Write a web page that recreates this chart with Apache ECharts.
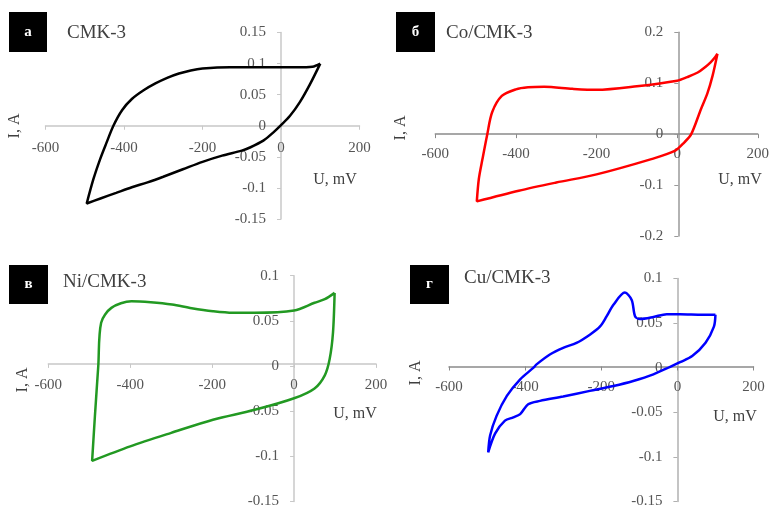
<!DOCTYPE html>
<html>
<head>
<meta charset="utf-8">
<script src="https://cdn.jsdelivr.net/npm/echarts@6/dist/echarts.min.js"></script>
<style>html,body{margin:0;padding:0;background:#fff}#c{width:772px;height:509px}</style>
</head>
<body>
<div id="c"></div>
<script>
// Panel а: CMK-3
var aU = [100, 80, 40, 0, -80, -130, -200, -230, -260, -290, -320, -350, -380, -405, -427, -445, -461, -478, -495,
          -460, -420, -380, -340, -300, -250, -200, -150, -100, -79, -45, -20, 0, 23, 48, 74, 100];
var aI = [0.100, 0.095, 0.094, 0.094, 0.094, 0.094, 0.092, 0.089, 0.084, 0.077, 0.068, 0.057, 0.043, 0.025, 0.000, -0.028, -0.054, -0.086, -0.125,
          -0.117, -0.108, -0.099, -0.091, -0.082, -0.070, -0.058, -0.048, -0.040, -0.035, -0.024, -0.011, 0.001, 0.016, 0.038, 0.067, 0.100];
// Panel б: Co/CMK-3
var bU = [100, 95, 83, 70, 51, 25, 0, -100, -200, -260, -330, -370, -400, -435, -459, -471, -483, -492, -497,
          -393, -300, -200, -64, -6, 18, 35, 59, 75, 88, 100];
var bI = [0.158, 0.152, 0.141, 0.132, 0.121, 0.112, 0.105, 0.094, 0.087, 0.089, 0.093, 0.092, 0.088, 0.075, 0.043, 0.000, -0.049, -0.088, -0.132,
          -0.111, -0.095, -0.079, -0.049, -0.033, -0.016, 0.000, 0.049, 0.080, 0.115, 0.158];
// Panel в: Ni/CMK-3
var cU = [99, 75, 50, 0, -96, -150, -198, -250, -298, -350, -397, -446, -471, -478, -486, -493,
          -400, -300, -198, -96, 0, 50, 75, 87, 95, 99];
var cI = [0.081, 0.074, 0.070, 0.0615, 0.059, 0.059, 0.0607, 0.064, 0.068, 0.0705, 0.0716, 0.0644, 0.048, 0.000, -0.054, -0.105,
          -0.089, -0.074, -0.0594, -0.0485, -0.0357, -0.0248, -0.0103, 0.008, 0.037, 0.081];
// Panel г: Cu/CMK-3
var dU = [100, 66, 7, -28, -63, -98, -111, -120, -138, -168, -186, -203, -230, -265, -300, -335, -370, -378, -413, -448, -475, -492, -497,
          -479, -453, -431, -413, -392, -361, -300, -230, -168, -116, -63, -19, 7, 39, 74, 96, 100];
var dI = [0.0595, 0.0594, 0.060, 0.060, 0.0568, 0.0546, 0.0575, 0.076, 0.0842, 0.0705, 0.0575, 0.0463, 0.037, 0.0278, 0.0223, 0.0148, 0.0037, 0.000, -0.013, -0.0316, -0.054, -0.076, -0.095,
          -0.074, -0.0594, -0.0557, -0.052, -0.0409, -0.0372, -0.0323, -0.026, -0.0205, -0.0149, -0.0075, 0.001, 0.0062, 0.013, 0.028, 0.046, 0.0595];

var xTicks = [-600, -400, -200, 0, 200];

function zip(u, i) { return u.map(function (v, k) { return [v, i[k]]; }); }

var FONT = 'Liberation Serif';
var panels = [
  {grid: {left: 45.5, top: 32.5, width: 314, height: 186.5}, ymin: -0.15, ymax: 0.15, yint: 0.05, data: zip(aU, aI), color: '#000000', axX: '#c8c8c8', axY: '#c8c8c8', xm: 15},
  {grid: {left: 435.3, top: 32.3, width: 324, height: 203.7}, ymin: -0.2, ymax: 0.2, yint: 0.1, data: zip(bU, bI), color: '#ff0000', axX: '#8a8a8a', axY: '#9a9a9a', xm: 12},
  {grid: {left: 48.3, top: 275.7, width: 327.7, height: 229.3}, ymin: -0.15, ymax: 0.1, yint: 0.05, data: zip(cU, cI), color: '#229922', axX: '#c8c8c8', axY: '#c8c8c8', xm: 14},
  {grid: {left: 449, top: 278.5, width: 304.5, height: 225}, ymin: -0.15, ymax: 0.1, yint: 0.05, data: zip(dU, dI), color: '#0000ff', axX: '#8a8a8a', axY: '#b0b0b0', xm: 13}
];

var xMin = xTicks[0], xMax = xTicks[xTicks.length - 1];
var grids = [], xAxes = [], yAxes = [], series = [];
panels.forEach(function (p, k) {
  grids.push(Object.assign({containLabel: false}, p.grid));
  // place axes so they cross at zero (offset derived from the axis ranges)
  var xOff = -p.grid.height * (0 - p.ymin) / (p.ymax - p.ymin);
  var yOff = -p.grid.width * (0 - xMin) / (xMax - xMin);
  xAxes.push({
    type: 'value', gridIndex: k, min: xMin, max: xMax, interval: 200,
    position: 'bottom', offset: xOff,
    axisLine: {onZero: false, lineStyle: {color: p.axX, width: 1.5}},
    axisTick: {show: true, inside: false, length: 4, lineStyle: {color: p.axX}},
    axisLabel: {color: '#555', fontFamily: FONT, fontSize: 15, margin: p.xm, showMinLabel: true, showMaxLabel: true},
    splitLine: {show: false}
  });
  yAxes.push({
    type: 'value', gridIndex: k, min: p.ymin, max: p.ymax, interval: p.yint,
    position: 'left', offset: yOff,
    axisLine: {show: true, onZero: false, lineStyle: {color: p.axY, width: 1.5}},
    axisTick: {show: true, inside: false, length: 4, lineStyle: {color: p.axY}},
    axisLabel: {color: '#555', fontFamily: FONT, fontSize: 15, margin: 15, showMinLabel: true, showMaxLabel: true,
      formatter: function (v) { return String(Math.round(v * 100) / 100); }},
    splitLine: {show: false}
  });
  series.push({
    type: 'line', xAxisIndex: k, yAxisIndex: k, data: p.data, showSymbol: false, smooth: 0.3,
    lineStyle: {color: p.color, width: 2.5}, animation: false, z: 5
  });
});

function badge(x, y, w, h, t) {
  return [
    {type: 'rect', shape: {x: x, y: y, width: w, height: h}, style: {fill: '#000'}, z: 10},
    {type: 'text', x: x + w / 2, y: y + h / 2, style: {text: t, fill: '#fff', font: 'bold 15px "Liberation Serif"', align: 'center', verticalAlign: 'middle'}, z: 11}
  ];
}
function txt(x, y, t, size, align, rot) {
  return {type: 'text', x: x, y: y, rotation: rot || 0,
    style: {text: t, fill: '#404040', font: size + 'px "Liberation Serif"', align: align || 'left', verticalAlign: 'middle'}, z: 11};
}

var graphics = [].concat(
  badge(9, 12, 38, 40, 'а'), badge(396, 12, 39, 40, 'б'), badge(9, 265, 39, 39, 'в'), badge(410, 265, 39, 39, 'г'),
  [
    txt(67, 33, 'CMK-3', 19), txt(446, 33, 'Co/CMK-3', 19), txt(63, 282, 'Ni/CMK-3', 19), txt(464, 278, 'Cu/CMK-3', 19),
    txt(335, 180, 'U, mV', 16, 'center'), txt(740, 180, 'U, mV', 16, 'center'), txt(355, 414, 'U, mV', 16, 'center'), txt(735, 417, 'U, mV', 16, 'center'),
    txt(15, 126, 'I, A', 16, 'center', Math.PI / 2), txt(401, 128, 'I, A', 16, 'center', Math.PI / 2),
    txt(23, 380, 'I, A', 16, 'center', Math.PI / 2), txt(416, 373, 'I, A', 16, 'center', Math.PI / 2)
  ]
);

var chart = echarts.init(document.getElementById('c'), null, {renderer: 'canvas'});
chart.setOption({
  animation: false,
  backgroundColor: '#fff',
  grid: grids, xAxis: xAxes, yAxis: yAxes, series: series,
  graphic: graphics
});
</script>
</body>
</html>
